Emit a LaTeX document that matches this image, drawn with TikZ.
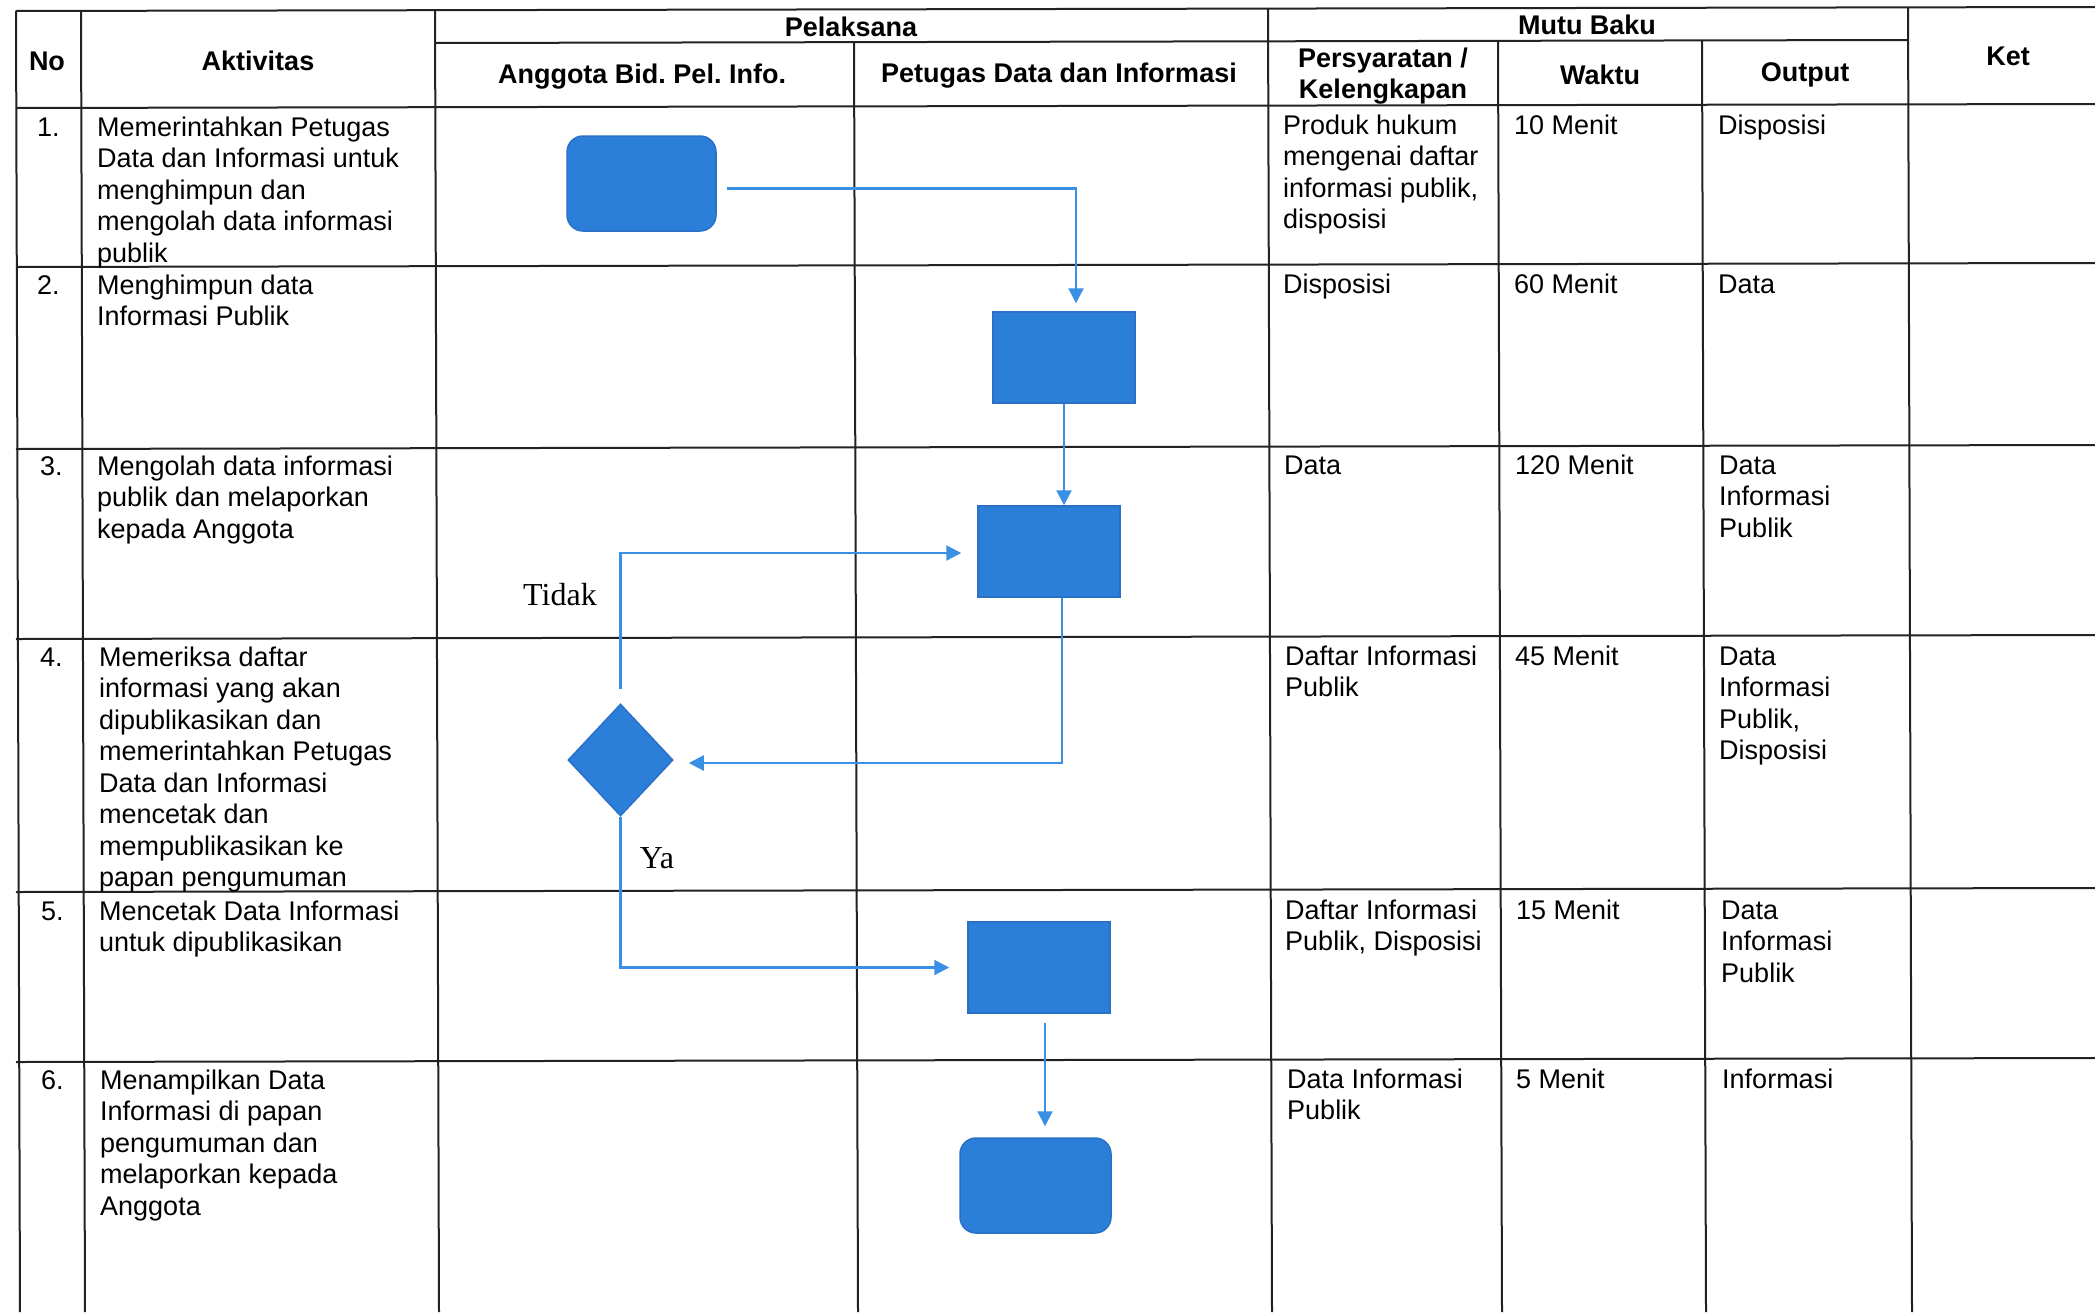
\documentclass[tikz,border=0pt]{standalone}
\usepackage{fontspec}
\setmainfont{Liberation Sans}
\newfontfamily\serifa{Liberation Serif}
\usetikzlibrary{arrows.meta,shapes.geometric,calc}
\definecolor{boxfill}{HTML}{2C7FD9}
\definecolor{boxedge}{HTML}{2A70C4}
\definecolor{linec}{HTML}{3A90E5}
\definecolor{gridc}{HTML}{222222}
\frenchspacing
\begin{document}
\begin{tikzpicture}[x=1pt,y=-1pt,
  grid/.style={line width=2pt, draw=gridc},
  cell/.style={anchor=north west, inner sep=0pt, align=left, font=\fontsize{27}{31.5}\selectfont},
  head/.style={anchor=center, inner sep=0pt, align=center, font=\fontsize{27}{31.5}\selectfont\bfseries},
  proc/.style={draw=boxedge, fill=boxfill, line width=1.5pt, minimum width=142pt, minimum height=91pt, inner sep=0pt},
  term/.style={proc, rounded corners=16pt, minimum width=149pt, minimum height=95pt},
  decis/.style={diamond, draw=boxedge, fill=boxfill, line width=1.5pt, minimum width=105pt, minimum height=112pt, inner sep=0pt},
  conn/.style={draw=linec, line width=2.2pt, -{Triangle[length=15pt,width=15pt]}},
  lbl/.style={font=\serifa\fontsize{32}{36}\selectfont, inner sep=0pt}
]
\useasboundingbox[fill=white] (0,0) rectangle (2095,1312);

% ---------- grid ----------
\foreach \yy in {11,108,267,449,639,892,1062}
  \draw[grid] (16,\yy) -- (2095,\yy-4);
\draw[grid] (435,43) -- (1908,40);
\foreach \xx in {16,81,435,1268,1908}
  \draw[grid] (\xx,{11-4*\xx/2095}) -- (\xx+4,1312);
\foreach \xx in {854,1498,1702}
  \draw[grid] (\xx,{43-3*(\xx-435)/1473}) -- (\xx+4,1312);

% ---------- header ----------
\node[head] (hno) at (47,61) {No};
\node[head] (hakt) at (258,61) {Aktivitas};
\node[head] (hpel) at (851,27) {Pelaksana};
\node[head] (hmutu) at (1587,25) {Mutu Baku};
\node[head] (hang) at (642,77) {Anggota Bid. Pel. Info.};
\node[head] (hpet) at (1059,76) {Petugas Data dan Informasi};
\node[head] (hpers) at (1383,76) {Persyaratan /\\Kelengkapan};
\node[head] (hwak) at (1600,75) {Waktu};
\node[head] (hout) at (1805,75) {Output};
\node[head] (hket) at (2008,56) {Ket};

% ---------- row 1 ----------
\node[cell] (n1) at (37,114) {\strut 1.};
\node[cell] (a1) at (97,114) {\strut Memerintahkan Petugas\\Data dan Informasi untuk\\menghimpun dan\\mengolah data informasi\\publik};
\node[cell] (p1) at (1283,112) {\strut Produk hukum\\mengenai daftar\\informasi publik,\\disposisi};
\node[cell] (w1) at (1514,112) {\strut 10 Menit};
\node[cell] (o1) at (1718,112) {\strut Disposisi};
% ---------- row 2 ----------
\node[cell] (n2) at (37,272) {\strut 2.};
\node[cell] (a2) at (97,272) {\strut Menghimpun data\\Informasi Publik};
\node[cell] (p2) at (1283,271) {\strut Disposisi};
\node[cell] (w2) at (1514,271) {\strut 60 Menit};
\node[cell] (o2) at (1718,271) {\strut Data};
% ---------- row 3 ----------
\node[cell] (n3) at (40,453) {\strut 3.};
\node[cell] (a3) at (97,453) {\strut Mengolah data informasi\\publik dan melaporkan\\kepada Anggota};
\node[cell] (p3) at (1284,452) {\strut Data};
\node[cell] (w3) at (1515,452) {\strut 120 Menit};
\node[cell] (o3) at (1719,452) {\strut Data\\Informasi\\Publik};
% ---------- row 4 ----------
\node[cell] (n4) at (40,644) {\strut 4.};
\node[cell] (a4) at (99,644) {\strut Memeriksa daftar\\informasi yang akan\\dipublikasikan dan\\memerintahkan Petugas\\Data dan Informasi\\mencetak dan\\mempublikasikan ke\\papan pengumuman};
\node[cell] (p4) at (1285,643) {\strut Daftar Informasi\\Publik};
\node[cell] (w4) at (1515,643) {\strut 45 Menit};
\node[cell] (o4) at (1719,643) {\strut Data\\Informasi\\Publik,\\Disposisi};
% ---------- row 5 ----------
\node[cell] (n5) at (41,898) {\strut 5.};
\node[cell] (a5) at (99,898) {\strut Mencetak Data Informasi\\untuk dipublikasikan};
\node[cell] (p5) at (1285,897) {\strut Daftar Informasi\\Publik, Disposisi};
\node[cell] (w5) at (1516,897) {\strut 15 Menit};
\node[cell] (o5) at (1721,897) {\strut Data\\Informasi\\Publik};
% ---------- row 6 ----------
\node[cell] (n6) at (41,1067) {\strut 6.};
\node[cell] (a6) at (100,1067) {\strut Menampilkan Data\\Informasi di papan\\pengumuman dan\\melaporkan kepada\\Anggota};
\node[cell] (p6) at (1287,1066) {\strut Data Informasi\\Publik};
\node[cell] (w6) at (1516,1066) {\strut 5 Menit};
\node[cell] (o6) at (1722,1066) {\strut Informasi};

% ---------- flow shapes ----------
\node[term] (start) at (641.5,183.5) {};
\node[proc] (r2) at (1064,357.5) {};
\node[proc] (r3) at (1049,551.5) {};
\node[decis] (dec) at (620.5,760) {};
\node[proc] (r5) at (1039,967.5) {};
\node[term, minimum width=151pt] (endn) at (1035.5,1185.5) {};

% ---------- connectors ----------
\draw[conn] ($(start.east)+(10,5)$) -| ($(r2.north)+(12,-8)$);
\draw[conn] (r2.south) -- (r2.south |- r3.north);
\draw[conn] ($(r3.south)+(13,0)$) |- ($(dec.east)+(15,3)$);
\draw[conn] ($(dec.north)+(0,-14)$) |- ($(r3.west)+(-16,1.5)$);
\draw[conn] (dec.south) |- ($(r5.west)+(-18,0)$);
\draw[conn] ($(r5.south)+(6,9)$) -- ($(endn.north)+(9.5,-11)$);

% ---------- labels ----------
\node[lbl] (tidak) at (560,595) {Tidak};
\node[lbl] (ya) at (657,858) {Ya};
\end{tikzpicture}
\end{document}
